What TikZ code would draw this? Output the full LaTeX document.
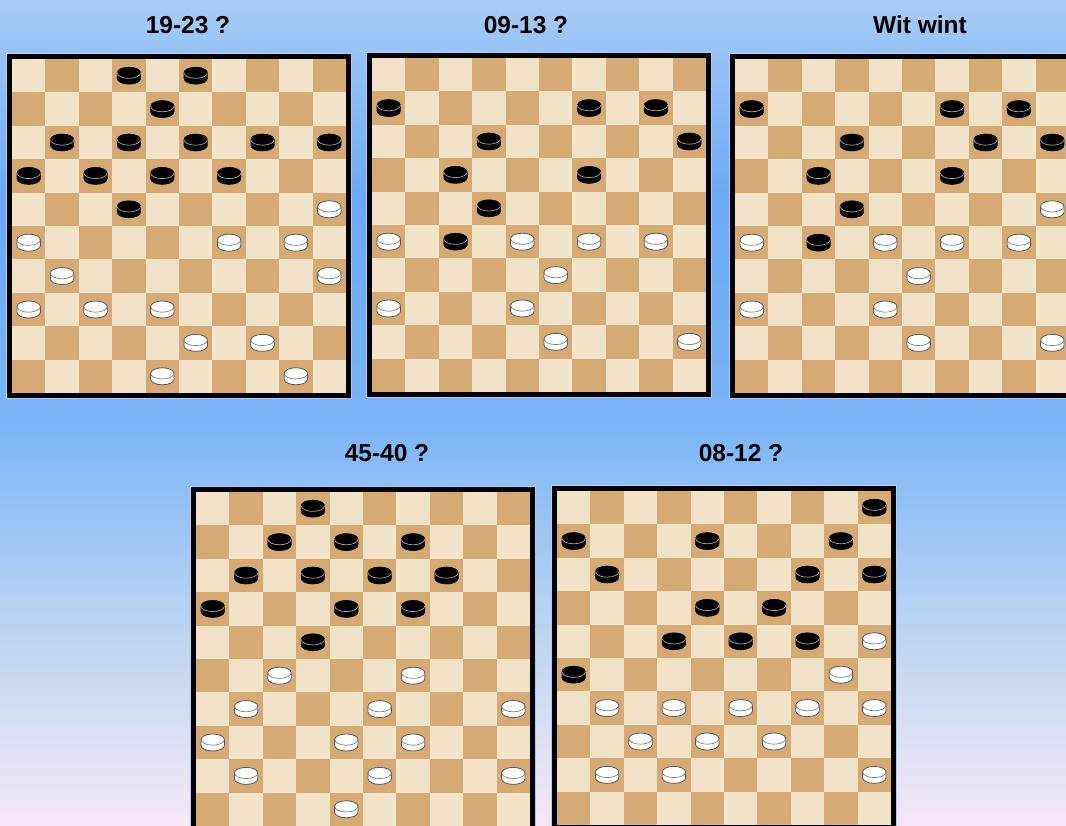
\documentclass[tikz,border=0pt]{standalone}
\usepackage{fontspec}
\setmainfont{Liberation Sans}
\usepackage{xcolor}
\usepackage{tikz}

\definecolor{skytop}{HTML}{A8CCF4}
\definecolor{skydeep}{HTML}{6CA8F8}
\definecolor{skymid}{HTML}{7AB4F8}
\definecolor{skypale}{HTML}{B8D4F2}
\definecolor{skypink}{HTML}{F6E8F6}
\definecolor{lightsq}{HTML}{F2E3C8}
\definecolor{darksq}{HTML}{D6AA74}

\tikzset{
  blackman/.pic={
    \filldraw[fill=black, draw=black, line width=0.6pt] (-11.7,2.9) arc[start angle=180, end angle=0, x radius=11.7, y radius=5.6] -- (11.7,-2.9) arc[start angle=0, end angle=-180, x radius=11.7, y radius=5.6] -- cycle;
    \draw[gray!70, line width=0.7pt] (11.7,2.9) arc[start angle=0, end angle=-180, x radius=11.7, y radius=5.6];
  },
  whiteman/.pic={
    \filldraw[fill=white, draw=black!65, line width=0.8pt] (-11.7,2.9) arc[start angle=180, end angle=0, x radius=11.7, y radius=5.6] -- (11.7,-2.9) arc[start angle=0, end angle=-180, x radius=11.7, y radius=5.6] -- cycle;
    \draw[black!50, line width=0.7pt] (11.7,2.9) arc[start angle=0, end angle=-180, x radius=11.7, y radius=5.6];
  },
}

\begin{document}
\begin{tikzpicture}[x=1pt, y=1pt,
  title/.style={font=\bfseries\fontsize{24.5}{28}\selectfont, inner sep=0pt},
  rim/.style={line width=5pt, black}]
\useasboundingbox (0,0) rectangle (1066,826);
\clip (0,0) rectangle (1066,826);

% background
\shade[top color=skytop, bottom color=skydeep] (0,826) rectangle (1066,626);
\shade[top color=skydeep, bottom color=skymid] (0,626.5) rectangle (1066,406);
\shade[top color=skymid, bottom color=skypale] (0,406.5) rectangle (1066,206);
\shade[top color=skypale, bottom color=skypink] (0,206.5) rectangle (1066,0);

% titles
\node[title] (t1923) at (188,801) {19-23 ?};
\node[title] (t0913) at (526,801) {09-13 ?};
\node[title] (twit) at (920,801) {Wit wint};
\node[title] (t4540) at (387,373) {45-40 ?};
\node[title] (t0812) at (741,373) {08-12 ?};

% boards
\foreach \bx/\by in {12/767, 372/768, 735/767, 196/334, 557/335} {
  \begin{scope}[shift={(\bx,\by)}]
    \fill[lightsq] (0,0) rectangle (334,-334);
    \foreach \r in {0,...,9}
      \foreach \c in {0,2,...,8} {
        \pgfmathtruncatemacro\cc{\c+1-mod(\r,2)}
        \fill[darksq] (\cc*33.4,-\r*33.4) rectangle ++(33.4,-33.4);
      }
    \draw[white!35!skymid, line width=0.8pt] (-5.4,5.4) rectangle (339.4,-339.4);
    \draw[rim] (-2.5,2.5) rectangle (336.5,-336.5);
  \end{scope}
}

% 19-23 ?
\begin{scope}[shift={(12,767)}]
  \foreach \r/\c in {0/3,0/5,1/4,2/1,2/3,2/5,2/7,2/9,3/0,3/2,3/4,3/6,4/3}
    \pic at (\c*33.4+16.7,-\r*33.4-16.7) {blackman};
  \foreach \r/\c in {4/9,5/0,5/6,5/8,6/1,6/9,7/0,7/2,7/4,8/5,8/7,9/4,9/8}
    \pic at (\c*33.4+16.7,-\r*33.4-16.7) {whiteman};
\end{scope}

% 09-13 ?
\begin{scope}[shift={(372,768)}]
  \foreach \r/\c in {1/0,1/6,1/8,2/3,2/9,3/2,3/6,4/3,5/2}
    \pic at (\c*33.4+16.7,-\r*33.4-16.7) {blackman};
  \foreach \r/\c in {5/0,5/4,5/6,5/8,6/5,7/0,7/4,8/5,8/9}
    \pic at (\c*33.4+16.7,-\r*33.4-16.7) {whiteman};
\end{scope}

% Wit wint
\begin{scope}[shift={(735,767)}]
  \foreach \r/\c in {1/0,1/6,1/8,2/3,2/7,2/9,3/2,3/6,4/3,5/2}
    \pic at (\c*33.4+16.7,-\r*33.4-16.7) {blackman};
  \foreach \r/\c in {4/9,5/0,5/4,5/6,5/8,6/5,7/0,7/4,8/5,8/9}
    \pic at (\c*33.4+16.7,-\r*33.4-16.7) {whiteman};
\end{scope}

% 45-40 ?
\begin{scope}[shift={(196,334)}]
  \foreach \r/\c in {0/3,1/2,1/4,1/6,2/1,2/3,2/5,2/7,3/0,3/4,3/6,4/3}
    \pic at (\c*33.4+16.7,-\r*33.4-16.7) {blackman};
  \foreach \r/\c in {5/2,5/6,6/1,6/5,6/9,7/0,7/4,7/6,8/1,8/5,8/9,9/4}
    \pic at (\c*33.4+16.7,-\r*33.4-16.7) {whiteman};
\end{scope}

% 08-12 ?
\begin{scope}[shift={(557,335)}]
  \foreach \r/\c in {0/9,1/0,1/4,1/8,2/1,2/7,2/9,3/4,3/6,4/3,4/5,4/7,5/0}
    \pic at (\c*33.4+16.7,-\r*33.4-16.7) {blackman};
  \foreach \r/\c in {4/9,5/8,6/1,6/3,6/5,6/7,6/9,7/2,7/4,7/6,8/1,8/3,8/9}
    \pic at (\c*33.4+16.7,-\r*33.4-16.7) {whiteman};
\end{scope}
\end{tikzpicture}
\end{document}
